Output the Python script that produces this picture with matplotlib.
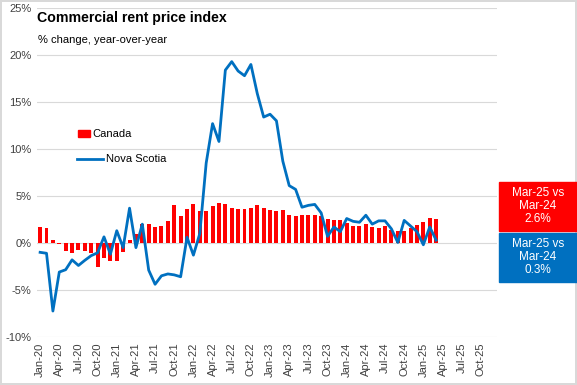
import matplotlib.pyplot as plt
from matplotlib.patches import Rectangle
from matplotlib.lines import Line2D
import pandas as pd
import numpy as np

plt.rcParams['font.family'] = ['Liberation Sans', 'DejaVu Sans']

# monthly categories Jan-20 .. Dec-25 (axis), data runs to Mar-25
months = [d.strftime('%b-%y') for d in pd.date_range('2020-01-01', '2025-12-01', freq='MS')]

canada = [1.7, 1.6, 0.3, -0.1, -0.9, -1.1, -0.8, -0.9, -1.1, -2.6, -1.6, -1.9,
          -1.9, -1.0, 0.3, 0.9, 2.0, 2.0, 1.7, 1.8, 2.3, 4.0, 2.9, 3.6,
          4.1, 3.4, 3.4, 3.9, 4.3, 4.1, 3.7, 3.65, 3.65, 3.75, 4.0, 3.75,
          3.5, 3.45, 3.55, 2.95, 2.85, 3.0, 3.0, 3.0, 2.9, 2.5, 2.4, 2.4,
          2.1, 1.8, 1.8, 2.05, 1.7, 1.6, 1.85, 1.4, 1.3, 1.3, 1.6, 1.95,
          2.25, 2.7, 2.6]

nova_scotia = [-1.0, -1.1, -7.25, -3.1, -2.85, -1.8, -2.4, -1.85, -1.35, -1.05, 0.65, -1.2,
               1.3, -0.5, 3.7, -0.5, 2.0, -2.9, -4.4, -3.5, -3.3, -3.4, -3.6, 0.6,
               -1.3, 1.0, 8.5, 12.7, 10.8, 18.4, 19.3, 18.3, 17.8, 19.0, 15.9, 13.4,
               13.7, 13.0, 8.7, 6.1, 5.7, 3.8, 4.0, 4.1, 3.2, 0.7, 1.7, 1.2,
               2.6, 2.3, 2.2, 2.95, 2.0, 2.35, 2.35, 1.5, 0.05, 2.4, 1.8, 1.2,
               -0.2, 1.7, 0.3]

yticks = [-10, -5, 0, 5, 10, 15, 20, 25]
red = '#FF0000'
blue = '#0070C0'

fig = plt.figure(figsize=(5.77, 3.85), dpi=100, linewidth=1.5, edgecolor='#d9d9d9')
ax = fig.add_axes([0.064, 0.125, 0.797, 0.854])

x = np.arange(len(canada))
ax.bar(x, canada, width=0.62, color=red, zorder=2)
ax.plot(x, nova_scotia, color=blue, lw=2.0, zorder=3)

ax.set_xlim(-0.5, len(months) - 0.5)
ax.set_ylim(-10, 25)
ax.set_yticks(yticks)
ax.set_yticklabels([f'{v}%' for v in yticks], fontsize=8, color='#404040')
ax.set_xticks(range(0, len(months), 3))
ax.set_xticklabels(months[::3], rotation=90, fontsize=8, color='#404040')
ax.tick_params(length=0, pad=4)
ax.grid(axis='y', color='#d9d9d9', lw=0.8, zorder=0)
for s in ax.spines.values():
    s.set_visible(False)

# title block
fig.text(0.064, 0.953, 'Commercial rent price index', fontsize=10.2, fontweight='bold', va='center')
fig.text(0.066, 0.896, '% change, year-over-year', fontsize=8, va='center')

# legend drawn by hand (Excel style)
fig.patches.append(Rectangle((78 / 577, 1 - 137 / 385), 12 / 577, 7 / 385,
                             transform=fig.transFigure, color=red))
fig.text(92 / 577, 1 - 134 / 385, 'Canada', fontsize=8, va='center')
fig.lines.append(Line2D([77 / 577, 103 / 577], [1 - 159 / 385] * 2,
                        transform=fig.transFigure, color=blue, lw=2.0))
fig.text(106 / 577, 1 - 159 / 385, 'Nova Scotia', fontsize=8, va='center')

# summary boxes on the right
fig.patches.append(Rectangle((499 / 577, 1 - 231 / 385), 78 / 577, 49 / 385,
                             transform=fig.transFigure, color=red))
fig.text(538 / 577, 1 - 206 / 385, 'Mar-25 vs\nMar-24\n2.6%', fontsize=8.5,
         color='white', ha='center', va='center', linespacing=1.15)
fig.patches.append(Rectangle((499 / 577, 1 - 282 / 385), 78 / 577, 49 / 385,
                             transform=fig.transFigure, color=blue))
fig.text(538 / 577, 1 - 257 / 385, 'Mar-25 vs\nMar-24\n0.3%', fontsize=8.5,
         color='white', ha='center', va='center', linespacing=1.15)

fig.savefig('out.png', dpi=100)
